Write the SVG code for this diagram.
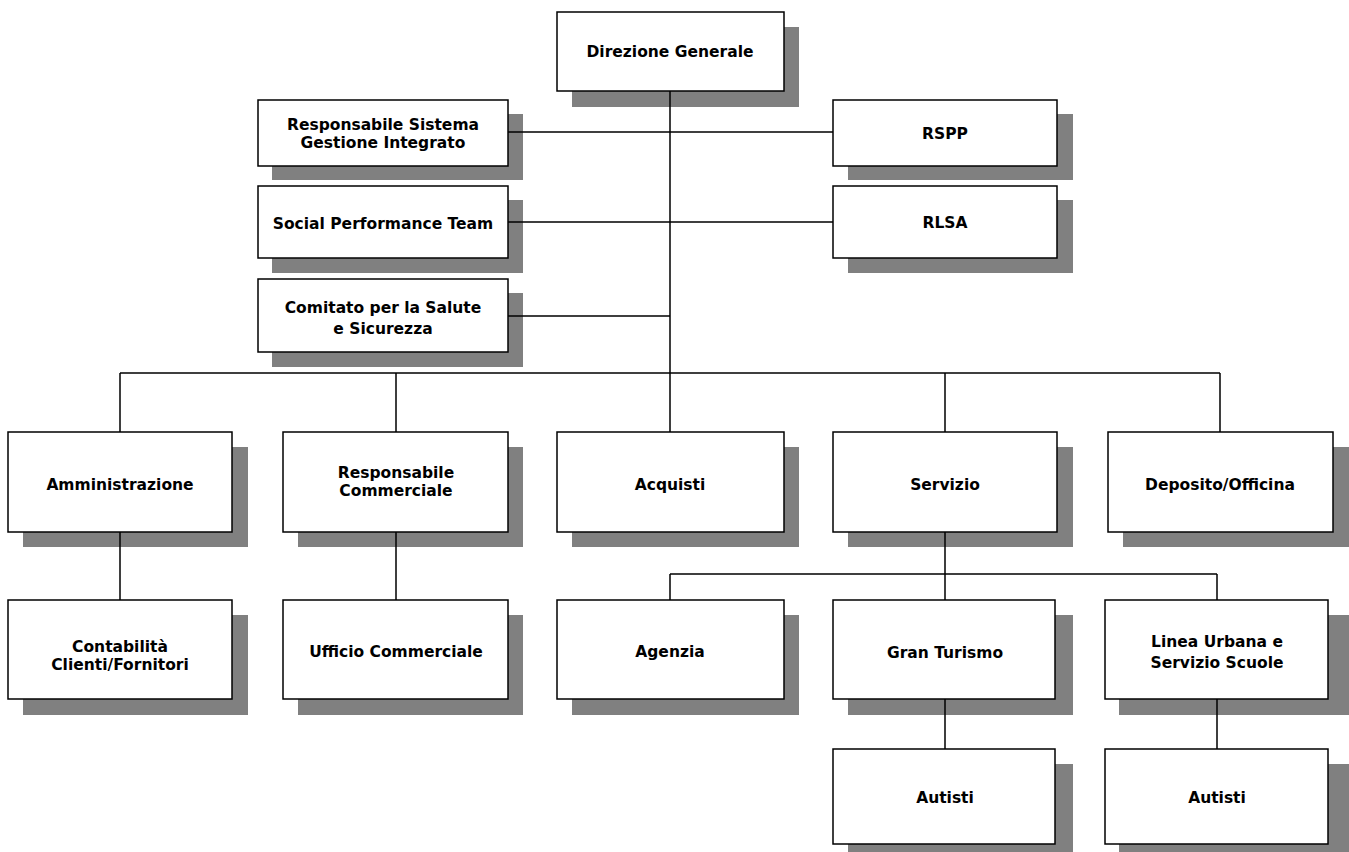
<svg xmlns="http://www.w3.org/2000/svg" width="1349" height="852" viewBox="0 0 1349 852">
<defs>
<style>
.sh{fill:#808080}
.bx{fill:#fff;stroke:#000;stroke-width:1.5}
.t{font-family:"DejaVu Sans","Liberation Sans",sans-serif;font-weight:bold;font-size:15.5px;fill:#000;text-anchor:middle}
.c{stroke:#000;stroke-width:1.5;fill:none}
</style>
</defs>
<rect width="1349" height="852" fill="#fff"/>
<g id="n-direzione"><rect class="sh" x="572" y="27" width="227" height="80"/><rect class="bx" x="557" y="12" width="227" height="79"/><text class="t" x="670" y="57">Direzione Generale</text></g>
<g id="n-rsgi"><rect class="sh" x="272" y="114" width="251" height="66"/><rect class="bx" x="258" y="100" width="250" height="66"/><text class="t" x="383" y="130">Responsabile Sistema</text><text class="t" x="383" y="148">Gestione Integrato</text></g>
<g id="n-spt"><rect class="sh" x="272" y="200" width="251" height="73"/><rect class="bx" x="258" y="186" width="250" height="72"/><text class="t" x="383" y="229">Social Performance Team</text></g>
<g id="n-css"><rect class="sh" x="272" y="293" width="251" height="74"/><rect class="bx" x="258" y="279" width="250" height="73"/><text class="t" x="383" y="313">Comitato per la Salute</text><text class="t" x="383" y="334">e Sicurezza</text></g>
<g id="n-rspp"><rect class="sh" x="848" y="114" width="225" height="66"/><rect class="bx" x="833" y="100" width="224" height="66"/><text class="t" x="945" y="139">RSPP</text></g>
<g id="n-rlsa"><rect class="sh" x="848" y="200" width="225" height="73"/><rect class="bx" x="833" y="186" width="224" height="72"/><text class="t" x="945" y="228">RLSA</text></g>
<g id="n-amm"><rect class="sh" x="23" y="447" width="225" height="100"/><rect class="bx" x="8" y="432" width="224" height="100"/><text class="t" x="120" y="490">Amministrazione</text></g>
<g id="n-respcomm"><rect class="sh" x="298" y="447" width="225" height="100"/><rect class="bx" x="283" y="432" width="225" height="100"/><text class="t" x="396" y="478">Responsabile</text><text class="t" x="396" y="496">Commerciale</text></g>
<g id="n-acquisti"><rect class="sh" x="572" y="447" width="227" height="100"/><rect class="bx" x="557" y="432" width="227" height="100"/><text class="t" x="670" y="490">Acquisti</text></g>
<g id="n-servizio"><rect class="sh" x="848" y="447" width="225" height="100"/><rect class="bx" x="833" y="432" width="224" height="100"/><text class="t" x="945" y="490">Servizio</text></g>
<g id="n-deposito"><rect class="sh" x="1123" y="447" width="226" height="100"/><rect class="bx" x="1108" y="432" width="225" height="100"/><text class="t" x="1220" y="490">Deposito/Officina</text></g>
<g id="n-contab"><rect class="sh" x="23" y="615" width="225" height="100"/><rect class="bx" x="8" y="600" width="224" height="99"/><text class="t" x="120" y="652">Contabilità</text><text class="t" x="120" y="670">Clienti/Fornitori</text></g>
<g id="n-uffcomm"><rect class="sh" x="298" y="615" width="225" height="100"/><rect class="bx" x="283" y="600" width="225" height="99"/><text class="t" x="396" y="657">Ufficio Commerciale</text></g>
<g id="n-agenzia"><rect class="sh" x="572" y="615" width="227" height="100"/><rect class="bx" x="557" y="600" width="227" height="99"/><text class="t" x="670" y="657">Agenzia</text></g>
<g id="n-granturismo"><rect class="sh" x="848" y="615" width="225" height="100"/><rect class="bx" x="833" y="600" width="222" height="99"/><text class="t" x="945" y="658">Gran Turismo</text></g>
<g id="n-linea"><rect class="sh" x="1119" y="615" width="230" height="100"/><rect class="bx" x="1105" y="600" width="223" height="99"/><text class="t" x="1217" y="647">Linea Urbana e</text><text class="t" x="1217" y="668">Servizio Scuole</text></g>
<g id="n-autisti1"><rect class="sh" x="848" y="764" width="225" height="88"/><rect class="bx" x="833" y="749" width="222" height="95"/><text class="t" x="945" y="803">Autisti</text></g>
<g id="n-autisti2"><rect class="sh" x="1119" y="764" width="230" height="88"/><rect class="bx" x="1105" y="749" width="223" height="95"/><text class="t" x="1217" y="803">Autisti</text></g>
<g id="connectors">
<path class="c" d="M670 91V373M508 132H833M508 222H833M508 316H670M120 373H1220M120 373V432M396 373V432M670 373V432M945 373V432M1220 373V432M120 532V600M396 532V600M945 532V574M670 574H1217M670 574V600M945 574V600M1217 574V600M945 699V749M1217 699V749"/>
</g>
</svg>
